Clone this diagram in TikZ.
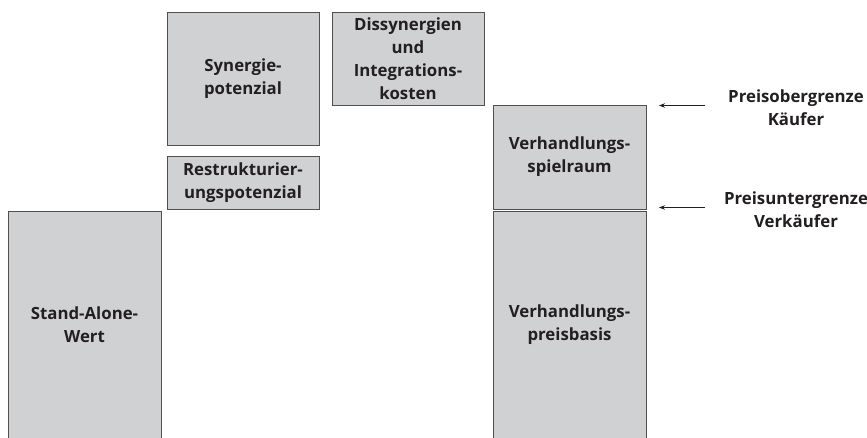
\documentclass[tikz,border=0pt]{standalone}
\usepackage{fontspec}
\setmainfont{Open Sans}
\usetikzlibrary{arrows.meta}
\definecolor{boxfill}{RGB}{208,209,211}
\definecolor{boxline}{RGB}{80,80,80}
\definecolor{ink}{RGB}{35,31,32}
\begin{document}
\begin{tikzpicture}[x=1pt,y=-1pt,
  blk/.style={fill=boxfill,draw=boxline,line width=0.9pt,inner sep=0pt,
    font=\fontsize{16.8}{22.8}\selectfont\bfseries,text=ink,align=center},
  lbl/.style={font=\fontsize{16.8}{22.8}\selectfont\bfseries,text=ink,align=center,inner sep=0pt},
  pointer/.style={draw=ink,line width=0.7pt,-{Stealth[length=6pt,width=4.5pt]}}]
\useasboundingbox[fill=white] (0,0) rectangle (867,437);
% value columns (x positions in px, y downwards)
\node[blk,minimum width=153,minimum height=228] (sa) at (84.5,325) {Stand-Alone-\\Wert};
\node[blk,minimum width=152,minimum height=53] (rp) at (243,182.5) {Restrukturier-\\ungspotenzial};
\node[blk,minimum width=152,minimum height=133] (sp) at (243,78.5) {Synergie-\\potenzial};
\node[blk,minimum width=152,minimum height=93] (dk) at (408,58.5) {Dissynergien\\und\\Integrations-\\kosten};
\node[blk,minimum width=153,minimum height=104] (vs) at (569.5,157) {Verhandlungs-\\spielraum};
\node[blk,minimum width=153,minimum height=228] (vp) at (569.5,325) {Verhandlungs-\\preisbasis};
% price limits
\node[lbl] (po) at (796,108) {Preisobergrenze\\Käufer};
\node[lbl] (pu) at (796,210) {Preisuntergrenze\\Verkäufer};
\coordinate (poA) at (705,105.5);
\coordinate (poB) at (659,105.5);
\coordinate (puA) at (705,207.5);
\coordinate (puB) at (659,207.5);
\draw[pointer] (poA) -- (poB);
\draw[pointer] (puA) -- (puB);
\end{tikzpicture}
\end{document}
